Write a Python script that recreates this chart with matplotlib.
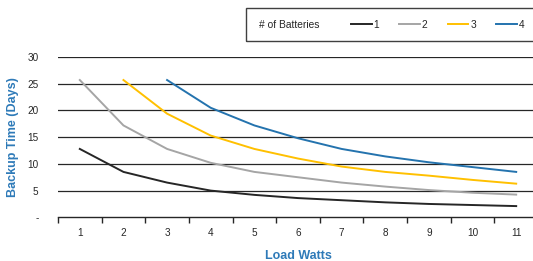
import numpy as np
import matplotlib
matplotlib.use("Agg")
import matplotlib.pyplot as plt
from matplotlib.patches import Rectangle

plt.rcParams['font.family'] = ['Liberation Sans', 'DejaVu Sans']

# load in watts (categories)
watts = [1, 2, 3, 4, 5, 6, 7, 8, 9, 10, 11]

# backup time in days, per number of batteries (None = off the chart)
bat1 = [12.8, 8.5, 6.5, 5.0, 4.2, 3.6, 3.2, 2.8, 2.5, 2.3, 2.1]
bat2 = [25.7, 17.2, 12.8, 10.2, 8.5, 7.5, 6.5, 5.75, 5.1, 4.6, 4.25]
bat3 = [None, 25.7, 19.4, 15.3, 12.8, 11.0, 9.5, 8.5, 7.8, 7.0, 6.3]
bat4 = [None, None, 25.7, 20.5, 17.2, 14.8, 12.8, 11.4, 10.3, 9.4, 8.5]

series = [bat1, bat2, bat3, bat4]
labels = ["1", "2", "3", "4"]
colors = ["#262626", "#a5a5a5", "#ffc000", "#2473ae"]

yticks = [0, 5, 10, 15, 20, 25, 30]
ytick_labels = ["-", "5", "10", "15", "20", "25", "30"]

blue = "#2e7ab8"

fig = plt.figure(figsize=(5.33, 2.61), dpi=100)
ax = fig.add_axes([0.1088, 0.1674, 0.9006, 0.614])

# horizontal gridlines
for y in yticks[1:]:
    ax.axhline(y, color="#262626", lw=0.9, zorder=1)

handles = []
for vals, lab, c in zip(series, labels, colors):
    v = np.array([np.nan if a is None else a for a in vals], dtype=float)
    h, = ax.plot(watts, v, color=c, lw=1.4, label=lab, zorder=3)
    handles.append(h)

ax.set_xlim(0.5, 11.5)
ax.set_ylim(0, 30)
ax.set_yticks(yticks)
ax.set_yticklabels(ytick_labels)
ax.set_xticks(watts)
ax.set_xticks(np.arange(0.5, 11.6, 1), minor=True)
ax.tick_params(axis="x", which="major", length=0, labelsize=7.2, pad=8, colors="#262626")
ax.tick_params(axis="x", which="minor", length=4, width=1, direction="out", color="#262626")
ax.tick_params(axis="y", length=0, labelsize=7.2, pad=14, colors="#262626")

for s in ["top", "right", "left"]:
    ax.spines[s].set_visible(False)
ax.spines["bottom"].set_color("#262626")
ax.spines["bottom"].set_linewidth(1)
ax.spines["bottom"].set_zorder(4)

ax.set_xlabel("Load Watts", color=blue, fontsize=9, fontweight="bold", labelpad=8)
ax.set_ylabel("Backup Time (Days)", color=blue, fontsize=9, fontweight="bold", labelpad=6)

# legend box across the top right
fig.patches.append(Rectangle((246 / 533, 1 - 41 / 261), 300 / 533, 33 / 261,
                             transform=fig.transFigure, fill=False,
                             edgecolor="#404040", lw=1))
fig.text(259 / 533, 1 - 25 / 261, "# of Batteries", fontsize=7.4,
         color="#262626", va="center", ha="left")
fig.legend(handles=handles, labels=labels, loc="center left",
           bbox_to_anchor=(347 / 533, 1 - 25 / 261), ncol=4, frameon=False,
           fontsize=7.4, handlelength=2.0, handletextpad=0.2,
           columnspacing=1.95, borderaxespad=0, labelcolor="#262626")

fig.savefig("out.png", dpi=100)
